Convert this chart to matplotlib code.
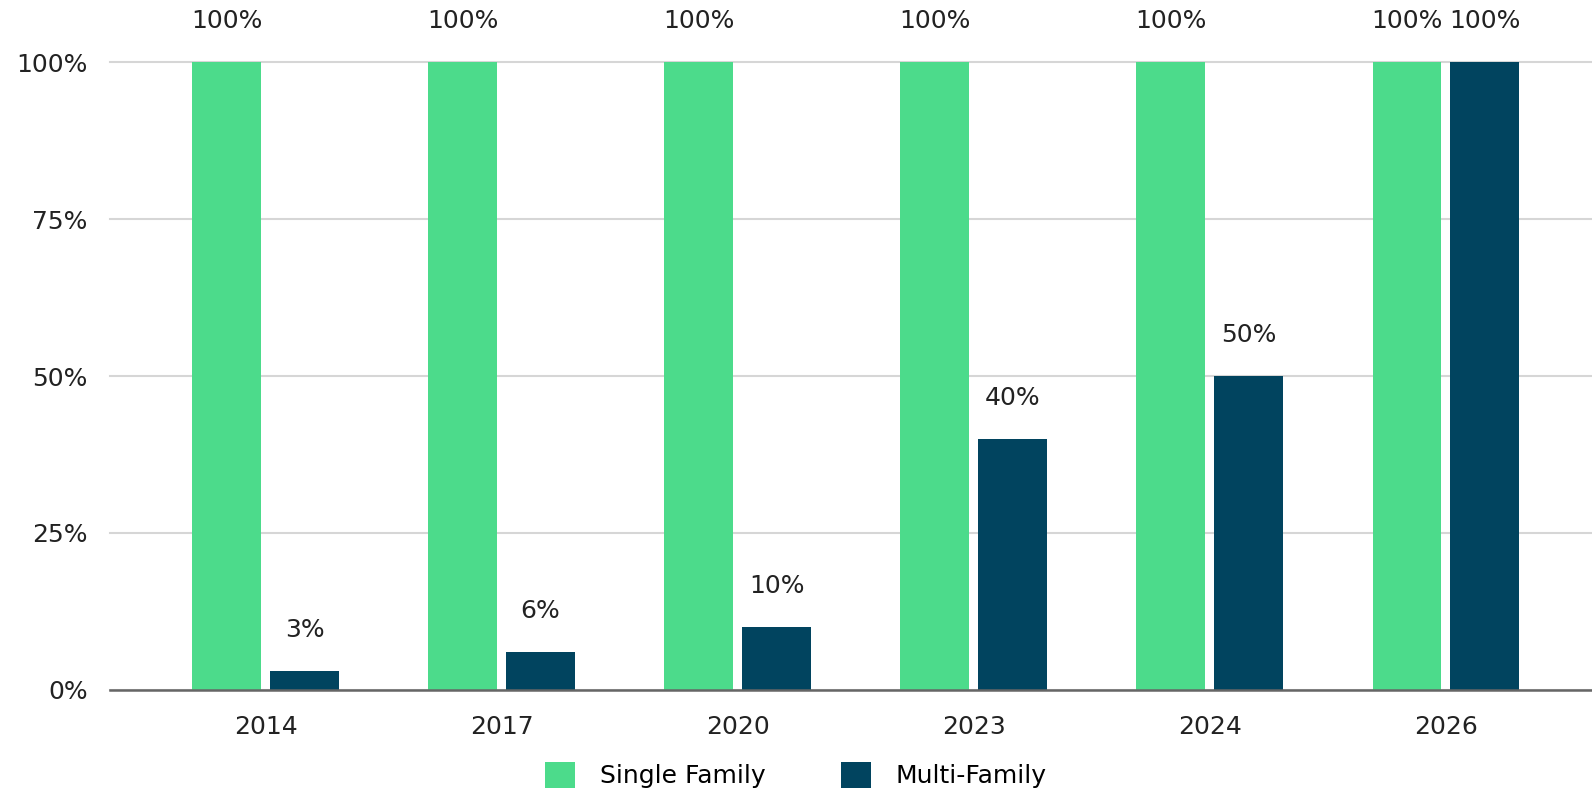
import numpy as np
import matplotlib.pyplot as plt
from matplotlib.ticker import PercentFormatter

years = ["2014", "2017", "2020", "2023", "2024", "2026"]
single_family = [100, 100, 100, 100, 100, 100]
multi_family = [3, 6, 10, 40, 50, 100]

green = "#4cdb8b"
navy = "#01445f"
fs = 18

fig = plt.figure(figsize=(15.92, 7.91), dpi=100)
ax = fig.add_axes([0.069, 0.1277, 0.931, 0.7939])

x = np.arange(len(years))
w = 0.29
off = 0.165
b1 = ax.bar(x - off, single_family, w, color=green, label="Single Family", zorder=3)
b2 = ax.bar(x + off, multi_family, w, color=navy, label="Multi-Family", zorder=3)

for bars in (b1, b2):
    for r in bars:
        h = r.get_height()
        ax.annotate(f"{h:.0f}%", (r.get_x() + r.get_width() / 2, h),
                    xytext=(0, 29.5), textcoords="offset points",
                    ha="center", va="center", fontsize=fs, color="#222222",
                    annotation_clip=False)

ax.set_ylim(0, 100)
ax.set_xlim(-0.66, 5.62)
ax.set_yticks([0, 25, 50, 75, 100])
ax.yaxis.set_major_formatter(PercentFormatter(decimals=0))
ax.set_xticks(x)
ax.set_xticklabels(years)
ax.tick_params(axis="both", length=0, labelsize=fs, labelcolor="#222222")
ax.tick_params(axis="x", pad=18)
ax.tick_params(axis="y", pad=16)
ax.grid(axis="y", color="#d6d6d6", linewidth=1.5, zorder=0)
for gl in ax.get_ygridlines():
    gl.set_clip_on(False)
for s in ["top", "right", "left"]:
    ax.spines[s].set_visible(False)
ax.spines["bottom"].set_color("#666666")
ax.spines["bottom"].set_linewidth(1.8)
ax.spines["bottom"].set_zorder(4)

fig.legend(handles=[b1, b2], loc="center", bbox_to_anchor=(0.5, 0.02),
           ncol=2, frameon=False, fontsize=fs, handlelength=1.2,
           handleheight=1.2, columnspacing=3.0, handletextpad=1.0)

fig.savefig("out.png", dpi=100)
